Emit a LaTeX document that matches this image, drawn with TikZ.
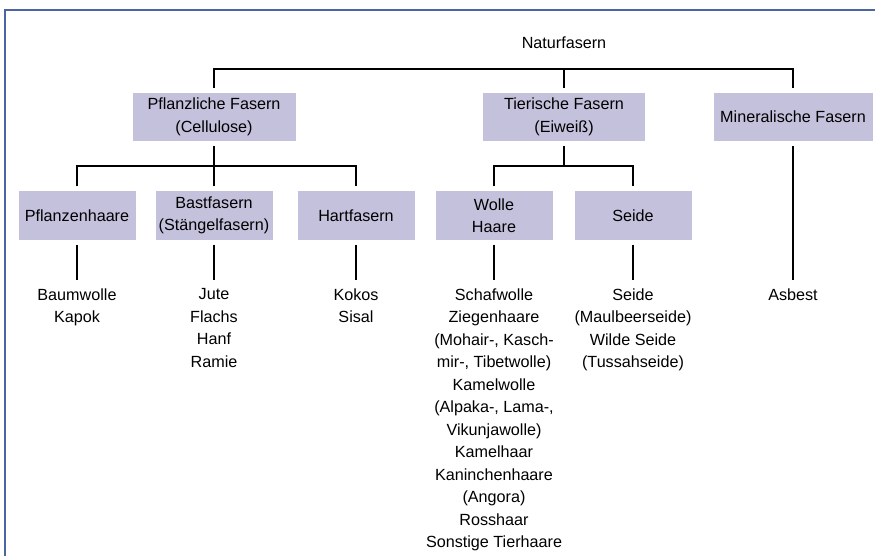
\documentclass[tikz,border=0pt]{standalone}
\usepackage{fontspec}
\setmainfont{Liberation Sans}
\usepackage{tikz}
\usetikzlibrary{positioning,calc}
\usepackage{xcolor}
\definecolor{boxfill}{HTML}{C4C1DC}
\definecolor{framecol}{HTML}{4B64A3}

\begin{document}
\begin{tikzpicture}[every node/.style={font=\fontsize{9.2pt}{12.8pt}\selectfont, align=center},
    box/.style={fill=boxfill, minimum height=0.97cm, inner sep=0pt, outer sep=2.8pt},
    leaf/.style={anchor=north, inner sep=0pt, outer sep=5pt},
    conn/.style={line width=1.1pt}]
        \useasboundingbox (0,0) rectangle (17.5,-11.12);
        \draw[framecol, line width=0.85pt] (0.1,-11.12) -- (0.1,-0.2) -- (17.5,-0.2);
        % top level
        \node (natur) at (11.28,-0.86) {Naturfasern};
        \node[box, minimum width=3.26cm] (pfl) at (4.28,-2.34) {Pflanzliche Fasern\\(Cellulose)};
        \node[box, minimum width=3.24cm] (tier) at (11.28,-2.34) {Tierische Fasern\\(Eiweiß)};
        \node[box, minimum width=3.18cm] (mine) at (15.86,-2.34) {Mineralische Fasern};
        % second level
        \node[box, minimum width=2.34cm] (haare) at (1.54,-4.31) {Pflanzenhaare};
        \node[box, minimum width=2.34cm] (bast) at (4.28,-4.31) {Bastfasern\\(Stängelfasern)};
        \node[box, minimum width=2.34cm] (hart) at (7.12,-4.31) {Hartfasern};
        \node[box, minimum width=2.34cm] (wolle) at (9.88,-4.31) {Wolle\\Haare};
        \node[box, minimum width=2.34cm] (seide) at (12.66,-4.31) {Seide};
        % leaves
        \node[leaf] (baum) at (1.54,-5.6) {Baumwolle\\Kapok};
        \node[leaf] (jute) at (4.28,-5.6) {Jute\\Flachs\\Hanf\\Ramie};
        \node[leaf] (kokos) at (7.12,-5.6) {Kokos\\Sisal};
        \node[leaf] (schaf) at (9.88,-5.6) {Schafwolle\\Ziegenhaare\\(Mohair-, Kasch-\\mir-, Tibetwolle)\\Kamelwolle\\(Alpaka-, Lama-,\\Vikunjawolle)\\Kamelhaar\\Kaninchenhaare\\(Angora)\\Rosshaar\\Sonstige Tierhaare};
        \node[leaf] (seiden) at (12.66,-5.6) {Seide\\(Maulbeerseide)\\Wilde Seide\\(Tussahseide)};
        \node[leaf] (asbest) at (15.86,-5.6) {Asbest};
        % connectors
        \coordinate (b0) at (11.28,-1.38);
        \coordinate (b1) at (4.28,-3.32);
        \coordinate (b2) at (11.28,-3.32);
        \draw[conn] (pfl.north) |- (b0) -| (mine.north);
        \draw[conn] (tier.north) -- (b0);
        \draw[conn] (pfl.south) -- (b1);
        \draw[conn] (haare.north) |- (b1) -| (hart.north);
        \draw[conn] (bast.north) -- (b1);
        \draw[conn] (tier.south) -- (b2);
        \draw[conn] (wolle.north) |- (b2) -| (seide.north);
        \draw[conn] (haare) -- (baum);
        \draw[conn] (bast) -- (jute);
        \draw[conn] (hart) -- (kokos);
        \draw[conn] (wolle) -- (schaf);
        \draw[conn] (seide) -- (seiden);
        \draw[conn] (mine) -- (asbest);
    \end{tikzpicture}
\end{document}
